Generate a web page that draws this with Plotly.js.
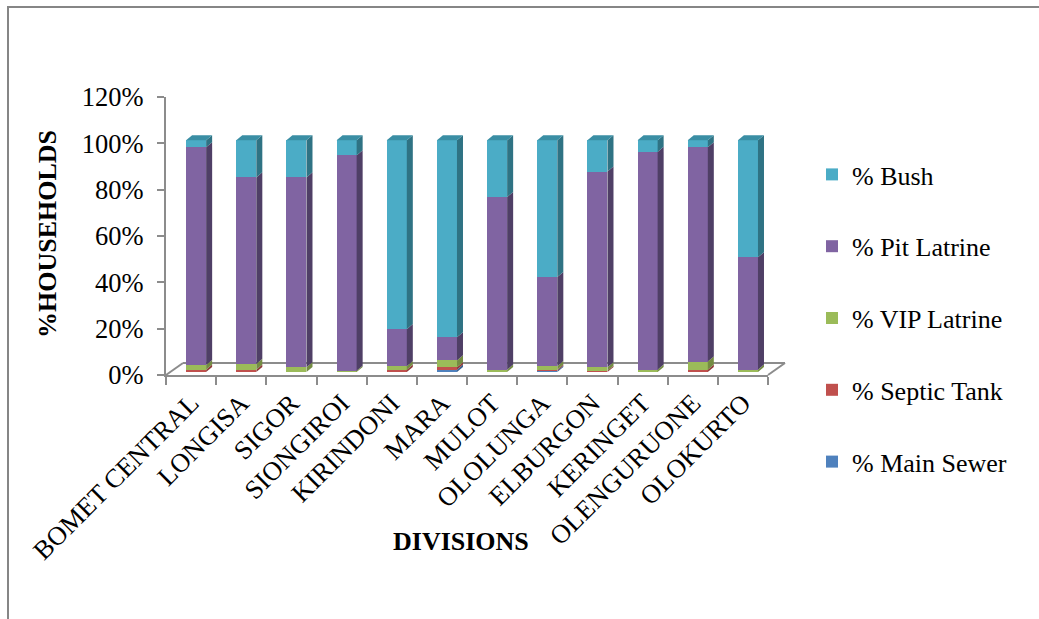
<!DOCTYPE html>
<html>
<head>
<meta charset="utf-8">
<script src="https://cdn.plot.ly/plotly-3.0.1.min.js"></script>
<style>
  html, body { margin: 0; padding: 0; background: #fff; }
  #chart { width: 1039px; height: 619px; }
</style>
</head>
<body>
<div id="chart"></div>
<script>
// Divisions along the x axis
const divisions = ['BOMET CENTRAL', 'LONGISA', 'SIGOR', 'SIONGIROI', 'KIRINDONI', 'MARA',
                   'MULOT', 'OLOLUNGA', 'ELBURGON', 'KERINGET', 'OLENGURUONE', 'OLOKURTO'];

// Share of households (%) by type of sanitation facility
const mainSewer   = [0,   0,   0,   0,   0,   1,   0,   0.5, 0,   0,   0,   0];
const septicTank  = [1,   1,   0,   0,   1,   1,   0,   0.5, 0.5, 0,   1,   0];
const vipLatrine  = [2,   2.5, 2,   0.5, 1.5, 3,   1,   1.5, 1.5, 1,   3.5, 1];
const pitLatrine  = [94,  80.5,82,  93,  16,  10,  74.5,38.5,84.5,94,  92.5,48.5];
const bush        = [3,   16,  16,  6.5, 81.5,85,  24.5,59,  13.5,5,   3,   50.5];

const series = [
  { name: '% Main Sewer',  values: mainSewer,  face: '#4f81bd', side: '#3a6190', top: '#43709f' },
  { name: '% Septic Tank', values: septicTank, face: '#c0504d', side: '#8f3b39', top: '#a54542' },
  { name: '% VIP Latrine', values: vipLatrine, face: '#9bbb59', side: '#748c42', top: '#86a24d' },
  { name: '% Pit Latrine', values: pitLatrine, face: '#8064a2', side: '#4f3f66', top: '#6a5387' },
  { name: '% Bush',        values: bush,       face: '#4bacc6', side: '#2f7384', top: '#3a8ea4' }
];

const W = 1039, H = 619;
const M = { l: 166, r: 271, t: 97, b: 244 };
const plotW = W - M.l - M.r, plotH = H - M.t - M.b;
const px2paperX = p => (p - M.l) / plotW;
const px2paperY = p => 1 - (p - M.t) / plotH;

const serif = "'Liberation Serif'";
const axisGrey = '#8c8c8c';
const textFont = { family: serif, size: 26, color: '#000000' };
const tickFont = { family: serif, size: 26.5, color: '#000000' };

// Bars: front faces are drawn as a stacked bar chart on an overlaid pair of axes
const traces = series.map((s, k) => ({
  type: 'bar',
  name: s.name,
  x: divisions,
  y: s.values,
  xaxis: 'x2',
  yaxis: 'y2',
  legendgroup: 'g' + k,
  legendrank: series.length - k,
  marker: { color: s.face, line: { width: 0 } },
  hoverinfo: 'x+y+name'
}));

// Invisible trace that carries the category axis with the labels
traces.push({
  type: 'scatter', mode: 'markers', x: divisions, y: divisions.map(() => null),
  xaxis: 'x', yaxis: 'y', showlegend: false, hoverinfo: 'skip'
});

// Depth of the columns (side and top faces), in axis units
const halfW = 0.2;
const depthX = 0.12;
const depthY = 2.2;

const shapes = [];
divisions.forEach((d, i) => {
  let base = 0;
  series.forEach((s) => {
    const v = s.values[i];
    const top = base + v;
    if (v > 0) {
      const xr = i + halfW;
      shapes.push({
        type: 'path', xref: 'x2', yref: 'y2', layer: 'above',
        path: `M${xr},${base} L${xr + depthX},${base + depthY} L${xr + depthX},${top + depthY} L${xr},${top} Z`,
        fillcolor: s.side, line: { width: 0 }
      });
    }
    base = top;
  });
  // top face of the column, coloured like the upper segment
  const topSeries = series.slice().reverse().find(s => s.values[i] > 0);
  const xl = i - halfW, xr = i + halfW;
  shapes.push({
    type: 'path', xref: 'x2', yref: 'y2', layer: 'above',
    path: `M${xl},${base} L${xl + depthX},${base + depthY} L${xr + depthX},${base + depthY} L${xr},${base} Z`,
    fillcolor: topSeries.top, line: { width: 0 }
  });
});

// Floor of the 3-D plot: back edge and the two slanted sides
const floorDepthX = 17, floorDepthY = 12;
const fx0 = M.l, fx1 = M.l + plotW, fy = M.t + plotH;
[
  [fx0, fy, fx0 + floorDepthX, fy - floorDepthY],
  [fx0 + floorDepthX, fy - floorDepthY, fx1 + floorDepthX, fy - floorDepthY],
  [fx1, fy, fx1 + floorDepthX, fy - floorDepthY]
].forEach(([a, b, c, d]) => shapes.push({
  type: 'line', xref: 'paper', yref: 'paper', layer: 'below',
  x0: px2paperX(a), y0: px2paperY(b), x1: px2paperX(c), y1: px2paperY(d),
  line: { color: axisGrey, width: 2 }
}));

// Chart frame (top and left edges)
shapes.push({
  type: 'line', xref: 'paper', yref: 'paper', layer: 'below',
  x0: px2paperX(7), y0: px2paperY(7), x1: px2paperX(W), y1: px2paperY(7),
  line: { color: '#868686', width: 2 }
});
shapes.push({
  type: 'line', xref: 'paper', yref: 'paper', layer: 'below',
  x0: px2paperX(8), y0: px2paperY(6), x1: px2paperX(8), y1: px2paperY(H),
  line: { color: '#868686', width: 2 }
});

// Axis titles
const annotations = [
  {
    text: '<b>DIVISIONS</b>', xref: 'paper', yref: 'paper',
    x: px2paperX(461), y: px2paperY(541), xanchor: 'center', yanchor: 'middle',
    showarrow: false, font: textFont
  },
  {
    text: '<b>%HOUSEHOLDS</b>', xref: 'paper', yref: 'paper', textangle: -90,
    x: px2paperX(47), y: px2paperY(234), xanchor: 'center', yanchor: 'middle',
    showarrow: false, font: textFont
  }
];

const layout = {
  width: W, height: H,
  margin: M,
  paper_bgcolor: '#ffffff',
  plot_bgcolor: 'rgba(0,0,0,0)',
  barmode: 'stack',
  bargap: 0.6,
  font: textFont,
  showlegend: true,
  legend: {
    x: px2paperX(812), y: px2paperY(151), xanchor: 'left', yanchor: 'top',
    traceorder: 'grouped', tracegroupgap: 35, maxheight: 600,
    font: textFont,
    bgcolor: 'rgba(0,0,0,0)'
  },
  xaxis: {
    type: 'category', categoryarray: divisions, categoryorder: 'array',
    range: [-0.5, divisions.length - 0.5], fixedrange: true,
    showline: true, linecolor: axisGrey, linewidth: 2,
    ticks: 'outside', tickson: 'boundaries', ticklen: 8, tickwidth: 2, tickcolor: axisGrey,
    tickangle: -45, showgrid: false, zeroline: false,
    tickfont: tickFont
  },
  yaxis: {
    range: [0, 120], dtick: 20, ticksuffix: '%', fixedrange: true,
    showline: true, linecolor: axisGrey, linewidth: 2,
    ticks: 'outside', ticklen: 7, tickwidth: 2, tickcolor: axisGrey,
    ticklabelstandoff: 8,
    showgrid: false, zeroline: false,
    tickfont: tickFont
  },
  xaxis2: {
    type: 'category', categoryarray: divisions, categoryorder: 'array',
    overlaying: 'x', range: [-0.6, divisions.length - 0.6],
    visible: false, fixedrange: true
  },
  yaxis2: {
    overlaying: 'y', range: [-1.3, 118.7], visible: false, fixedrange: true
  },
  shapes: shapes,
  annotations: annotations
};

Plotly.newPlot('chart', traces, layout, { displayModeBar: false, staticPlot: true });
</script>
</body>
</html>
